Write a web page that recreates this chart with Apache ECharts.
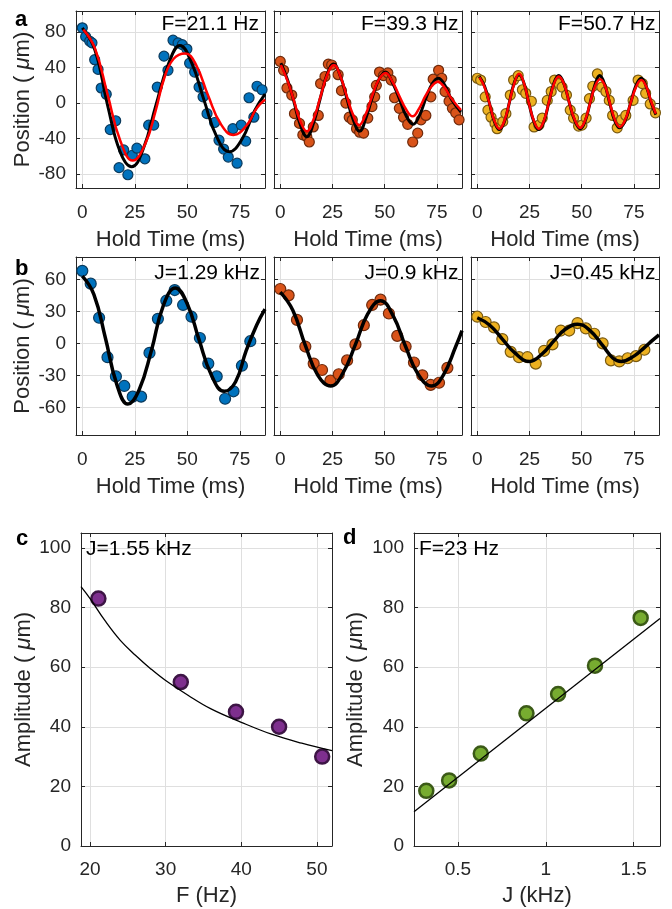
<!DOCTYPE html>
<html>
<head>
<meta charset="utf-8">
<script src="https://cdn.jsdelivr.net/npm/echarts@6/dist/echarts.min.js"></script>
<style>
  html, body { margin: 0; padding: 0; background: #fff; }
  #chart { width: 672px; height: 909px; }
</style>
</head>
<body>
<div id="chart"></div>
<script>
// ---- data ----
// row a : position vs hold time at three drive frequencies
const tA1 = [0, 1.6, 3.5, 4.6, 5.9, 7.5, 9.0, 11.4, 13.3, 15.9, 17.5, 19.7, 21.7, 23.8, 26.0, 29.8, 31.6, 34.0, 35.7, 38.9, 40.8, 43.2, 45.6, 47.6, 49.8, 51.1, 53.5, 55.6, 57.5, 59.4, 63.0, 65.1, 67.3, 69.5, 71.7, 73.7, 75.7, 77.8, 79.4, 81.7, 83.2, 85.6];
const posA1 = [85, 75, 70, 68, 49, 38, 17, 10, -30, -20, -73, -53, -81, -59, -51, -63, -25, -25, 18, 53, 37, 71, 68, 66, 61, 45, 35, 18, 7, -12, -22, -42, -52, -61, -29, -68, -25, -43, 6, -16, 19, 15];
const blackA1 = [[0, 85], [6, 60], [12, -2], [18, -55], [23.5, -72], [29, -52], [35, -3], [41, 44], [46.5, 65], [52, 46], [58, 3], [64, -38], [70, -55], [76, -41], [82, -9], [87, 10]];
const redA1 = [[0.5, 83], [6, 62], [12, 10], [18, -42], [24, -65], [30, -46], [35, -8], [39, 28], [43.5, 50], [49, 56], [54, 44], [60, 8], [66, -24], [72, -36], [78, -26], [83, -6], [87, 4]];

const tA2 = [0, 1.6, 3.2, 5.5, 6.8, 9.2, 10.8, 12.7, 13.9, 15.8, 18.2, 19.3, 21.4, 23.0, 24.6, 27.7, 29.3, 31.4, 33.0, 34.5, 36.5, 38.0, 39.9, 41.9, 43.9, 45.2, 46.0, 47.5, 49.4, 51.5, 53.1, 54.7, 57.0, 59.0, 61.0, 63.4, 65.8, 67.4, 69.7, 72.1, 73.2, 75.8, 77.3, 78.9, 80.8, 82.4, 84.0, 85.6];
const posA2 = [47, 37, 17, 9, -12, -23, -36, -38, -44, -27, -14, 22, 30, 44, 43, 32, 14, 0, -16, -19, -29, -33, -34, -17, -4, 7, 20, 35, 31, 34, 26, 6, -6, -16, -24, -44, -34, -19, -14, 7, 27, 37, 28, 13, 2, -6, -11, -19];
const blackA2 = [[0.3, 45], [3.5, 26], [6.5, 2], [9.5, -24], [12.7, -38], [16, -22], [19, 4], [22.5, 33], [25.5, 44], [28.8, 30], [31.8, 6], [34.8, -18], [38, -32], [41, -17], [44, 6], [47.3, 27], [50.4, 35], [53.5, 24], [57, 5], [60.2, -14], [63.6, -24], [66.8, -13], [69.8, 6], [72.8, 22], [75.6, 28], [78.8, 20], [82, 4], [86.5, -10]];
const redA2 = [[0.3, 43], [3.5, 25], [6.5, 3], [9.5, -20], [12.7, -32], [16, -18], [19, 5], [22.5, 32], [25.7, 43], [28.8, 30], [31.8, 8], [34.8, -13], [37.7, -25], [41, -12], [44, 8], [47.3, 27], [50.4, 34], [53.5, 25], [57, 8], [60.2, -7], [63.4, -15], [66.5, -6], [69.5, 8], [72.5, 19], [75.3, 24], [78.5, 18], [82, 5], [86.5, -8]];

const tA3 = [0, 1.6, 3.8, 5.1, 6.6, 8.5, 9.5, 12.2, 13.7, 15.8, 17.4, 19.6, 21.6, 23.2, 25.9, 27.2, 29.5, 31.1, 33.5, 35.4, 37.0, 39.0, 40.6, 42.7, 44.5, 46.1, 48.5, 50.1, 52.1, 53.7, 55.3, 57.5, 59.6, 61.6, 63.2, 64.8, 67.0, 69.0, 71.1, 74.6, 77.0, 79.0, 80.6, 82.8, 85.3];
const posA3 = [28, 26, 7, -8, -16, -23, -29, -21, -12, 9, 26, 31, 15, 11, 2, -27, -25, -17, 3, 13, 26, 22, 18, 9, -8, -17, -26, -25, -17, 5, 19, 33, 18, 13, 3, -14, -28, -19, -14, 3, 26, 22, 11, -1, -11];
const blackA3 = [[1, 30], [3.5, 19], [5.8, 0], [8.2, -21], [10.6, -30], [13, -21], [15.3, 0], [17.7, 23], [20, 32], [22.4, 22], [24.7, 0], [27.1, -21], [29.5, -30], [31.9, -21], [34.2, 0], [36.6, 22], [39, 31], [41.6, 21], [44.1, 0], [46.7, -20], [49.3, -29], [51.7, -20], [54, 0], [56.4, 21], [58.6, 31], [61, 21], [63.4, 0], [65.8, -20], [68.2, -28], [70.8, -20], [73.4, 0], [76, 20], [78.5, 28], [81, 18], [83.2, 1], [85.5, -13]];
const redA3 = [[1.1, 29], [3.5, 18], [5.8, 0], [8.2, -20], [10.6, -29], [13, -20], [15.3, 0], [17.7, 22], [20, 33], [22.4, 22], [24.7, 0], [27.1, -20], [29.5, -29], [31.9, -20], [34.2, 0], [36.6, 21], [39, 30], [41.6, 21], [44.1, 0], [46.7, -19], [49.3, -28], [51.7, -19], [54, 0], [56.4, 19], [58.8, 27], [61.2, 19], [63.5, 0], [65.9, -19], [68.2, -27], [70.8, -19], [73.4, 0], [76, 18], [78.5, 26], [81, 18], [83.2, 2], [85.5, -12]];

// row b : position vs hold time at three tunnelling rates
const tB = [0, 4, 8, 12, 16, 20, 24, 28, 32, 36, 40, 44, 48, 52, 56, 60, 64, 68, 72, 76, 80];
const posB1 = [68, 56, 24, -13, -31, -40, -50, -50, -9, 23, 40, 50, 36, 25, 5, -19, -31, -52, -45, -21, 2];
const posB2 = [51, 45, 22, -3, -19, -25, -35, -29, -16, -1, 17, 36, 41, 28, 7, -3, -18, -30, -39, -37, -23];
const posB3 = [25, 20, 15, 4, -8, -13, -13, -19, -7, -1, 12, 12, 19, 14, 9, 0, -16, -17, -14, -12, -6];
const blackB1 = [[0, 63], [5.5, 46], [11, 5], [16.5, -39], [21.7, -57], [27, -44], [33, -6], [38.5, 35], [44.3, 52], [50, 37], [55.5, 4], [61.5, -30], [67.6, -45], [73, -36], [78, -7], [83, 17], [87, 32]];
const blackB2 = [[0, 48], [6, 31], [12, -2], [18, -30], [24.2, -40], [30, -28], [36, -1], [42, 28], [48, 40], [54, 26], [60, -3], [66, -29], [72.5, -40], [78, -30], [84, -3], [87, 12]];
const blackB3 = [[0, 24], [6, 17], [12, 4], [18, -9], [25, -17], [31, -10], [37, 3], [42, 13], [48, 18], [54, 12], [60, -2], [65, -14], [69, -17], [75, -12], [80, -4], [84, 3], [87, 8]];

// row c/d : amplitudes
const freqC = [21.1, 32, 39.3, 45, 50.7];
const ampC = [83, 55, 45, 40, 30];
const fitFreqC = [18.8, 20, 22, 24, 26, 28, 30, 33, 36, 40, 44, 48, 52];
const fitAmpC = [87, 83, 75.5, 69, 64, 59.5, 55.5, 50.5, 46, 41.5, 37.5, 34.5, 32];
const jD = [0.32, 0.45, 0.63, 0.89, 1.07, 1.28, 1.54];
const ampD = [18.5, 22, 31, 44.5, 51, 60.5, 76.5];
const fitJD = [0.25, 1.65];
const fitAmpD = [11.5, 76.3];

// tick labels
const holdTicks = [0, 25, 50, 75];
const posTicksA = [-80, -40, 0, 40, 80];
const posTicksB = [-60, -30, 0, 30, 60];
const ampTicks = [0, 20, 40, 60, 80, 100];
const freqTicks = [20, 30, 40, 50];
const jTicks = [0.5, 1, 1.5];

(function () {
  const FONT = '"Liberation Sans", Arial, Helvetica, sans-serif';
  const INK = '#262626';
  const GRID = '#dfdfdf';
  const chart = echarts.init(document.getElementById('chart'));

  const grids = [], xAxes = [], yAxes = [], series = [];

  const pairs = (xs, ys) => xs.map((x, i) => [x, ys[i]]);
  const tick = vals => ({ show: true, inside: true, length: 4, customValues: vals, lineStyle: { color: INK, width: 1 } });
  const line = { show: true, onZero: false, lineStyle: { color: INK, width: 1 } };
  const nameStyle = { color: INK, fontSize: 22, fontFamily: FONT,
    rich: { i: { color: INK, fontSize: 22, fontFamily: FONT, fontStyle: 'italic' } } };

  function addPanel(p) {
    const g = grids.length;
    grids.push({ left: p.left, top: p.top, width: p.width, height: p.height });
    const xi = xAxes.length, yi = yAxes.length;
    xAxes.push({
      type: 'value', gridIndex: g, position: 'bottom', min: p.xr[0], max: p.xr[1],
      axisLine: line, axisTick: tick(p.xt),
      axisLabel: { customValues: p.xt, color: INK, fontSize: 19, fontFamily: FONT, margin: p.xMargin },
      splitLine: { show: true, lineStyle: { color: GRID, width: 1 } },
      name: p.xName, nameLocation: 'middle', nameGap: p.xGap, nameTextStyle: nameStyle
    });
    xAxes.push({
      type: 'value', gridIndex: g, position: 'top', min: p.xr[0], max: p.xr[1],
      axisLine: line, axisTick: tick(p.xt), axisLabel: { show: false }, splitLine: { show: false }
    });
    yAxes.push({
      type: 'value', gridIndex: g, position: 'left', min: p.yr[0], max: p.yr[1],
      axisLine: line, axisTick: tick(p.yt),
      axisLabel: { show: p.yLabels, customValues: p.yt, color: INK, fontSize: 19, fontFamily: FONT, margin: 10 },
      splitLine: { show: true, lineStyle: { color: GRID, width: 1 } },
      name: p.yName || '', nameLocation: 'middle', nameGap: p.yGap || 40, nameTextStyle: nameStyle
    });
    yAxes.push({
      type: 'value', gridIndex: g, position: 'right', min: p.yr[0], max: p.yr[1],
      axisLine: line, axisTick: tick(p.yt), axisLabel: { show: false }, splitLine: { show: false }
    });
    return { x: xi, y: yi };
  }

  function dots(ax, data, fill, edge, size, bw) {
    series.push({
      type: 'scatter', xAxisIndex: ax.x, yAxisIndex: ax.y, data: data,
      symbol: 'circle', symbolSize: size, silent: true,
      itemStyle: { color: fill, borderColor: edge, borderWidth: bw, opacity: 1 }
    });
  }
  function curve(ax, data, color, width, smooth) {
    series.push({
      type: 'line', xAxisIndex: ax.x, yAxisIndex: ax.y, data: data,
      showSymbol: false, symbol: 'none', smooth: smooth, silent: true, clip: true,
      lineStyle: { color: color, width: width }
    });
  }

  const holdX = [-3, 87];
  const rowA = { top: 11, height: 177, xr: holdX, yr: [-96, 104], xt: holdTicks, yt: posTicksA,
    xName: 'Hold Time (ms)', xGap: 41, xMargin: 15 };
  const rowB = { top: 257, height: 178, xr: holdX, yr: [-86, 81], xt: holdTicks, yt: posTicksB,
    xName: 'Hold Time (ms)', xGap: 41, xMargin: 15 };
  const posName = 'Position ( {i|μ}m)';
  const ampName = 'Amplitude ( {i|μ}m)';

  const a1 = addPanel(Object.assign({}, rowA, { left: 76, width: 189, yLabels: true, yName: posName, yGap: 42 }));
  const a2 = addPanel(Object.assign({}, rowA, { left: 274, width: 188, yLabels: false }));
  const a3 = addPanel(Object.assign({}, rowA, { left: 471, width: 188, yLabels: false }));
  const b1 = addPanel(Object.assign({}, rowB, { left: 76, width: 189, yLabels: true, yName: posName, yGap: 42 }));
  const b2 = addPanel(Object.assign({}, rowB, { left: 274, width: 188, yLabels: false }));
  const b3 = addPanel(Object.assign({}, rowB, { left: 471, width: 188, yLabels: false }));
  const c = addPanel({ left: 81, top: 533, width: 251, height: 313, xr: [18.8, 52], yr: [0, 105],
    xt: freqTicks, yt: ampTicks, xName: 'F (Hz)', xGap: 39, xMargin: 14, yLabels: true, yName: ampName, yGap: 46 });
  const d = addPanel({ left: 414, top: 533, width: 246, height: 313, xr: [0.25, 1.65], yr: [0, 105],
    xt: jTicks, yt: ampTicks, xName: 'J (kHz)', xGap: 39, xMargin: 14, yLabels: true, yName: ampName, yGap: 47 });

  const BLUE = '#0072BD', BLUE_E = '#0b3a5c';
  const ORANGE = '#D95319', ORANGE_E = '#6e2a0c';
  const YELLOW = '#EDB120', YELLOW_E = '#7a5a10';
  const PURPLE = '#7E2F8E', PURPLE_E = '#3d1545';
  const GREEN = '#77AC30', GREEN_E = '#3b5a17';

  dots(a1, pairs(tA1, posA1), BLUE, BLUE_E, 10, 1.2);
  curve(a1, blackA1, '#000', 3, 0.45);
  curve(a1, redA1, '#ff0000', 2.5, 0.45);
  dots(a2, pairs(tA2, posA2), ORANGE, ORANGE_E, 10, 1.2);
  curve(a2, blackA2, '#000', 3, 0.45);
  curve(a2, redA2, '#ff0000', 2.5, 0.45);
  dots(a3, pairs(tA3, posA3), YELLOW, YELLOW_E, 10, 1.2);
  curve(a3, blackA3, '#000', 3, 0.45);
  curve(a3, redA3, '#ff0000', 2.5, 0.45);

  curve(b1, blackB1, '#000', 3.5, 0.45);
  dots(b1, pairs(tB, posB1), BLUE, BLUE_E, 11, 1.2);
  curve(b2, blackB2, '#000', 3.5, 0.45);
  dots(b2, pairs(tB, posB2), ORANGE, ORANGE_E, 11, 1.2);
  curve(b3, blackB3, '#000', 3.5, 0.45);
  dots(b3, pairs(tB, posB3), YELLOW, YELLOW_E, 11, 1.2);

  curve(c, pairs(fitFreqC, fitAmpC), '#000', 1.3, 0.4);
  dots(c, pairs(freqC, ampC), PURPLE, PURPLE_E, 14, 2.5);
  curve(d, pairs(fitJD, fitAmpD), '#000', 1.3, false);
  dots(d, pairs(jD, ampD), GREEN, GREEN_E, 14, 2.5);

  const note = (x, y, text, align) => ({
    type: 'text', x: x, y: y, z: 100, silent: true,
    style: { text: text, fill: '#000', font: '21px ' + FONT, align: align, textAlign: align,
      verticalAlign: 'middle', textVerticalAlign: 'middle' }
  });
  const letter = (x, y, text) => ({
    type: 'text', x: x, y: y, z: 100, silent: true,
    style: { text: text, fill: '#000', font: 'bold 22px ' + FONT, align: 'left', textAlign: 'left',
      verticalAlign: 'middle', textVerticalAlign: 'middle' }
  });

  chart.setOption({
    animation: false,
    backgroundColor: '#fff',
    grid: grids,
    xAxis: xAxes,
    yAxis: yAxes,
    series: series,
    graphic: [
      note(259, 24.6, 'F=21.1 Hz', 'right'),
      note(458.5, 24.6, 'F=39.3 Hz', 'right'),
      note(655.5, 24.6, 'F=50.7 Hz', 'right'),
      note(260, 272.8, 'J=1.29 kHz', 'right'),
      note(458.5, 272.8, 'J=0.9 kHz', 'right'),
      note(655.5, 272.8, 'J=0.45 kHz', 'right'),
      note(86, 549.5, 'J=1.55 kHz', 'left'),
      note(419, 549.5, 'F=23 Hz', 'left'),
      letter(15, 19.5, 'a'),
      letter(15, 269, 'b'),
      letter(16, 539, 'c'),
      letter(343, 538, 'd')
    ]
  });

  window.addEventListener('resize', () => chart.resize());
})();
</script>
</body>
</html>
